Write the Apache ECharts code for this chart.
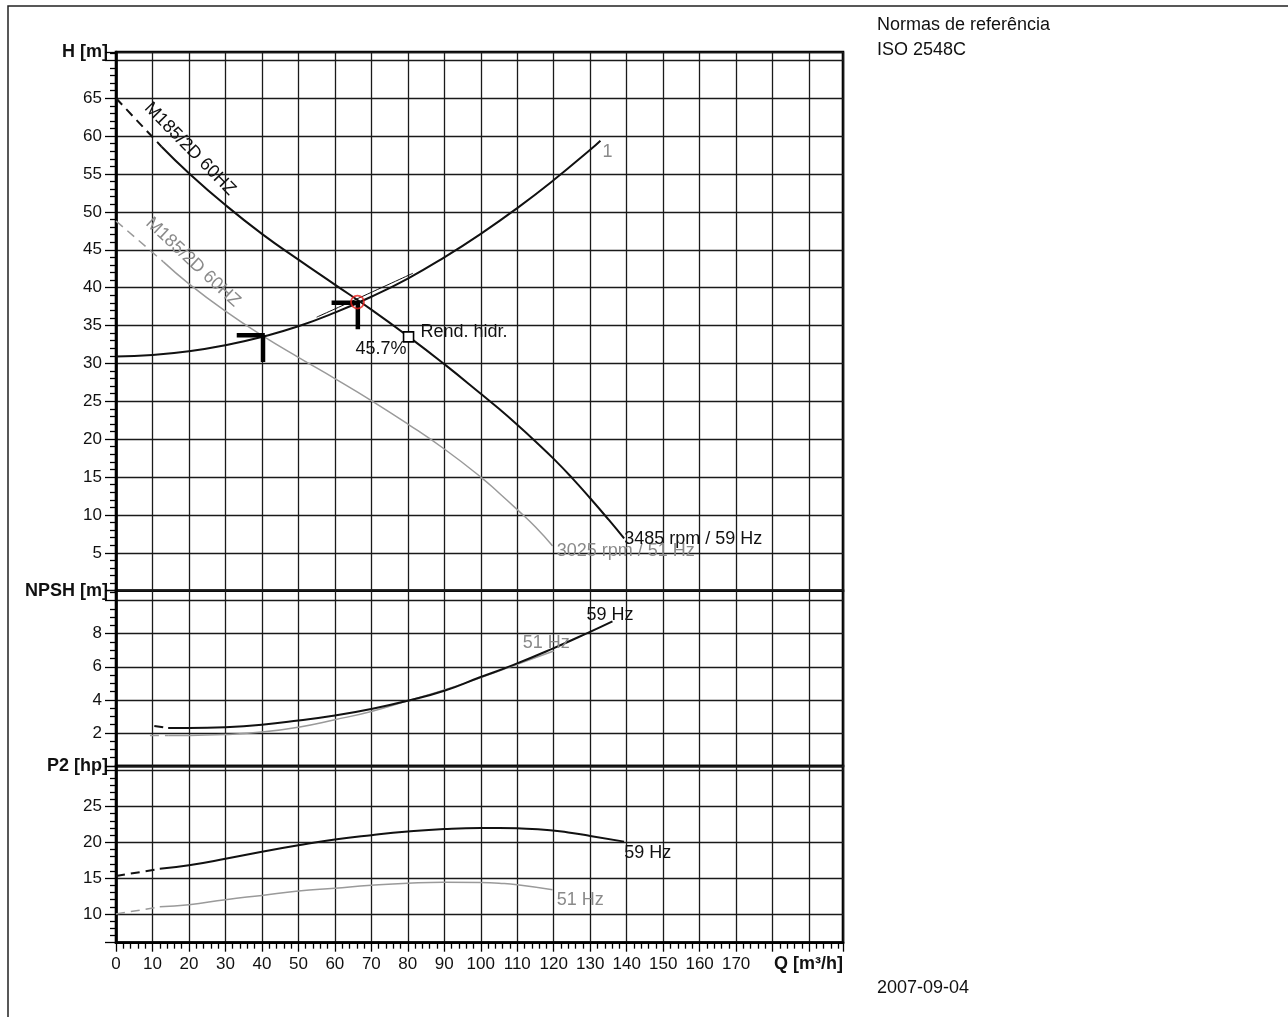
<!DOCTYPE html>
<html><head><meta charset="utf-8">
<script src="https://cdn.jsdelivr.net/npm/echarts@6/dist/echarts.min.js"></script>
<style>html,body{margin:0;padding:0;background:#fff}#c{width:1288px;height:1017px}</style>
</head><body><div id="c"></div>
<script>
// ---------------- data ----------------
const qLabels = [0,10,20,30,40,50,60,70,80,90,100,110,120,130,140,150,160,170];
const hLabels = [5,10,15,20,25,30,35,40,45,50,55,60,65];
const npshLabels = [2,4,6,8];
const p2Labels = [10,15,20,25];

// Head curves [Q m3/h, H m]
const head59Dashed = [[0,65.0],[12.5,58.6]];
const head59 = [[12.5,58.6],[20,55.1],[30,50.9],[40,47.1],[50,43.7],[60,40.4],[70,37.1],[80,33.6],[90,29.9],[100,26.0],[105,24.0],[110,21.9],[115,19.7],[120,17.4],[125,14.9],[130,12.2],[135,9.4],[139.3,6.9]];
const head51Dashed = [[0,48.8],[13,43.4]];
const head51 = [[13,43.4],[20,40.5],[30,36.9],[40,33.7],[50,30.8],[60,28.0],[70,25.1],[80,22.0],[90,18.7],[100,15.0],[105,12.9],[110,10.7],[115,8.4],[119.7,5.9]];
const systemCurve = [[0,30.9],[10,31.1],[20,31.6],[30,32.4],[40,33.5],[50,34.9],[60,36.7],[70,38.8],[80,41.2],[90,44.0],[100,47.1],[110,50.5],[120,54.2],[130,58.2],[132.8,59.4]];
const systemTol = [[55,36.1],[66,38.5],[81.4,41.9]];
const dutyPoint = [66.2,38.1];
const opPoints = [[66.3,38.0],[40.3,33.7]];
const effPoint = [80.2,33.5];
const effText = '45.7%';

// NPSH curves [Q, NPSH m]
const npsh59Dashed = [[10.5,2.42],[14.3,2.3]];
const npsh59 = [[14.3,2.3],[20,2.3],[30,2.35],[40,2.5],[50,2.75],[60,3.05],[70,3.45],[80,3.95],[90,4.55],[99.6,5.35],[108.8,6.1],[119.7,7.1],[129.8,8.1],[136.1,8.75]];
const npsh51Dashed = [[9.3,1.85],[14.3,1.85]];
const npsh51 = [[14.3,1.85],[20,1.85],[30,1.9],[40,2.05],[50,2.35],[60,2.8],[70,3.3],[80,3.95],[90,4.6],[100,5.35],[110,6.15],[120,6.95]];

// P2 curves [Q, P2 hp]
const p2_59Dashed = [[0,15.3],[12,16.3]];
const p2_59 = [[12,16.3],[20,16.8],[30,17.7],[40,18.7],[50,19.6],[60,20.4],[70,21.0],[80,21.5],[90,21.85],[100,22.0],[105,22.0],[110,21.95],[119,21.7],[125,21.3],[130,20.9],[139.3,20.1]];
const p2_51Dashed = [[0,10.0],[12,11.0]];
const p2_51 = [[12,11.0],[20,11.3],[30,12.0],[40,12.6],[50,13.2],[60,13.6],[70,14.0],[80,14.3],[90,14.45],[100,14.4],[105,14.3],[110,14.1],[119.7,13.4]];

// curve name annotations [Q, H]
const curveNameText = 'M185/2D 60HZ';
const curveName59At = [20.3,58.3];
const curveName51At = [21.1,43.35];

// ---------------- chart ----------------
const FONT = 'Liberation Sans, Arial, Helvetica, sans-serif';
const BLACK = '#111111';
const GRAY = '#9a9a9a';
const GRAYTXT = '#8a8a8a';
const NOFILL = 'rgba(0,0,0,0)';
const chart = echarts.init(document.getElementById('c'), null, {renderer:'canvas'});

const gridLine = {show:true, lineStyle:{color:'#1a1a1a', width:1.3}};
const grids = [
  {left:116, width:727, top:52, height:538.7},
  {left:116, width:727, top:590.7, height:175.3},
  {left:116, width:727, top:766, height:176.7}
].map(g => Object.assign(g, {show:true, borderColor:'#000', borderWidth:2.6, backgroundColor:'transparent'}));

function xAx(i, bottom){
  return {
    type:'value', gridIndex:i, min:0, max:199.3, interval:10,
    splitLine:gridLine,
    axisLine:{show:bottom, lineStyle:{color:'#000', width:2.6}},
    axisTick:{show:bottom, length:9, lineStyle:{color:'#000', width:1.3}},
    minorTick:{show:bottom, splitNumber:5, length:6, lineStyle:{color:'#000', width:1.3}},
    axisLabel:{show:bottom, margin:13, fontFamily:FONT, fontSize:17, color:BLACK,
      formatter:v => qLabels.includes(v) ? String(v) : ''},
    name: bottom ? 'Q [m³/h]' : '',
    nameLocation:'end', nameGap:0,
    nameTextStyle:{fontFamily:FONT, fontSize:18, fontWeight:'bold', color:BLACK, align:'right', verticalAlign:'top', padding:[12,0,0,0]}
  };
}
function yAx(i, name, opts, labels, minorSplit){
  return Object.assign({
    type:'value', gridIndex:i,
    splitLine:gridLine,
    axisLine:{show:true, lineStyle:{color:'#000', width:2.6}},
    axisTick:{show:true, length:11, lineStyle:{color:'#000', width:1.3}},
    minorTick:{show:true, splitNumber:minorSplit, length:6, lineStyle:{color:'#000', width:1.3}},
    axisLabel:{margin:14, fontFamily:FONT, fontSize:17, color:BLACK,
      formatter:v => labels.includes(v) ? String(v) : ''},
    name:name, nameLocation:'end', nameGap:0,
    nameTextStyle:{fontFamily:FONT, fontSize:18, fontWeight:'bold', color:BLACK, align:'right', verticalAlign:'middle', padding:[0,8,0,0]}
  }, opts);
}

function line(data, gi, color, width, dashed, extra){
  return Object.assign({
    type:'line', xAxisIndex:gi, yAxisIndex:gi, data:data, showSymbol:false, symbol:'none',
    smooth:0.5, silent:true,
    lineStyle:{color:color, width:width, type: dashed ? [9,6] : 'solid', cap:'butt'}
  }, extra || {});
}
function endLbl(text, color, offset){
  return {endLabel:{show:true, formatter:text, color:color, fontFamily:FONT, fontSize:18, distance:0, offset:offset}};
}

const series = [];
// Head panel
series.push(line(head51Dashed, 0, GRAY, 1.5, true, {smooth:false}));
series.push(line(head51, 0, GRAY, 1.5, false, endLbl('3025 rpm / 51 Hz', GRAYTXT, [4,5])));
series.push(line(head59Dashed, 0, BLACK, 2, true, {smooth:false}));
series.push(line(head59, 0, BLACK, 2, false, endLbl('3485 rpm / 59 Hz', BLACK, [0,1])));
series.push(line(systemCurve, 0, BLACK, 2, false, endLbl('1', GRAYTXT, [2,11])));
series.push(line(systemTol, 0, BLACK, 1, false));
// operating point markers (thick T)
const barQ = 7.2, barH = 3.5;
opPoints.forEach(p => {
  series.push(line([[p[0]-barQ,p[1]],[p[0]+0.5,p[1]]], 0, '#000', 4.5, false, {smooth:false}));
  series.push(line([[p[0],p[1]],[p[0],p[1]-barH]], 0, '#000', 4.5, false, {smooth:false}));
});
series.push({type:'scatter', xAxisIndex:0, yAxisIndex:0, data:[dutyPoint], symbol:'circle', symbolSize:13, silent:true,
  itemStyle:{color:NOFILL, borderColor:'#e8201c', borderWidth:1.8}, z:10});
series.push({type:'scatter', xAxisIndex:0, yAxisIndex:0, data:[effPoint], symbol:'rect', symbolSize:10, silent:true,
  itemStyle:{color:'#fff', borderColor:'#000', borderWidth:1.6, opacity:1}, z:5});

// NPSH panel
series.push(line(npsh51Dashed, 1, GRAY, 1.5, true, {smooth:false}));
series.push(line(npsh51, 1, GRAY, 1.5, false, endLbl('51 Hz', GRAYTXT, [-31,-8])));
series.push(line(npsh59Dashed, 1, BLACK, 2, true, {smooth:false}));
series.push(line(npsh59, 1, BLACK, 2, false, endLbl('59 Hz', BLACK, [-26,-6])));
// P2 panel
series.push(line(p2_51Dashed, 2, GRAY, 1.5, true, {smooth:false}));
series.push(line(p2_51, 2, GRAY, 1.5, false, endLbl('51 Hz', GRAYTXT, [4,10])));
series.push(line(p2_59Dashed, 2, BLACK, 2, true, {smooth:false}));
series.push(line(p2_59, 2, BLACK, 2, false, endLbl('59 Hz', BLACK, [0,11])));

const staticGraphics = [
  {type:'rect', shape:{x:8, y:6, width:1290, height:1030}, style:{fill:'none', stroke:'#222', lineWidth:1.5}, silent:true},
  {type:'text', x:877, y:25, style:{text:'Normas de referência', font:'18px '+FONT, fill:BLACK, verticalAlign:'middle'}},
  {type:'text', x:877, y:50.5, style:{text:'ISO 2548C', font:'18px '+FONT, fill:BLACK, verticalAlign:'middle'}},
  {type:'text', x:877, y:988, style:{text:'2007-09-04', font:'18px '+FONT, fill:BLACK, verticalAlign:'middle'}}
];

chart.setOption({
  animation:false,
  backgroundColor:'#fff',
  grid:grids,
  xAxis:[xAx(0,false), xAx(1,false), xAx(2,true)],
  yAxis:[
    yAx(0,'H [m]', {min:0, max:71.1, interval:5}, hLabels, 5),
    yAx(1,'NPSH [m]', {min:0, max:10.6, interval:2}, npshLabels, 4),
    yAx(2,'P2 [hp]', {min:6, max:30.65, splitNumber:5}, p2Labels, 5)
  ],
  series:series,
  graphic:staticGraphics
});

// annotations anchored to data coordinates
const px = v => chart.convertToPixel({gridIndex:0}, v);
const e = px(effPoint), n59 = px(curveName59At), n51 = px(curveName51At);
chart.setOption({graphic:staticGraphics.concat([
  {type:'text', x:e[0]+12, y:e[1]-5, z:10, style:{text:'Rend. hidr.', font:'18px '+FONT, fill:BLACK, verticalAlign:'middle', align:'left'}},
  {type:'text', x:e[0]-2, y:e[1]+12, z:10, style:{text:effText, font:'18px '+FONT, fill:BLACK, verticalAlign:'middle', align:'right'}},
  {type:'text', x:n59[0], y:n59[1], rotation:-45.6*Math.PI/180, z:10, style:{text:curveNameText, font:'18px '+FONT, fill:BLACK, verticalAlign:'middle', align:'center'}},
  {type:'text', x:n51[0], y:n51[1], rotation:-43*Math.PI/180, z:10, style:{text:curveNameText, font:'18px '+FONT, fill:GRAYTXT, verticalAlign:'middle', align:'center'}}
])});
</script></body></html>
